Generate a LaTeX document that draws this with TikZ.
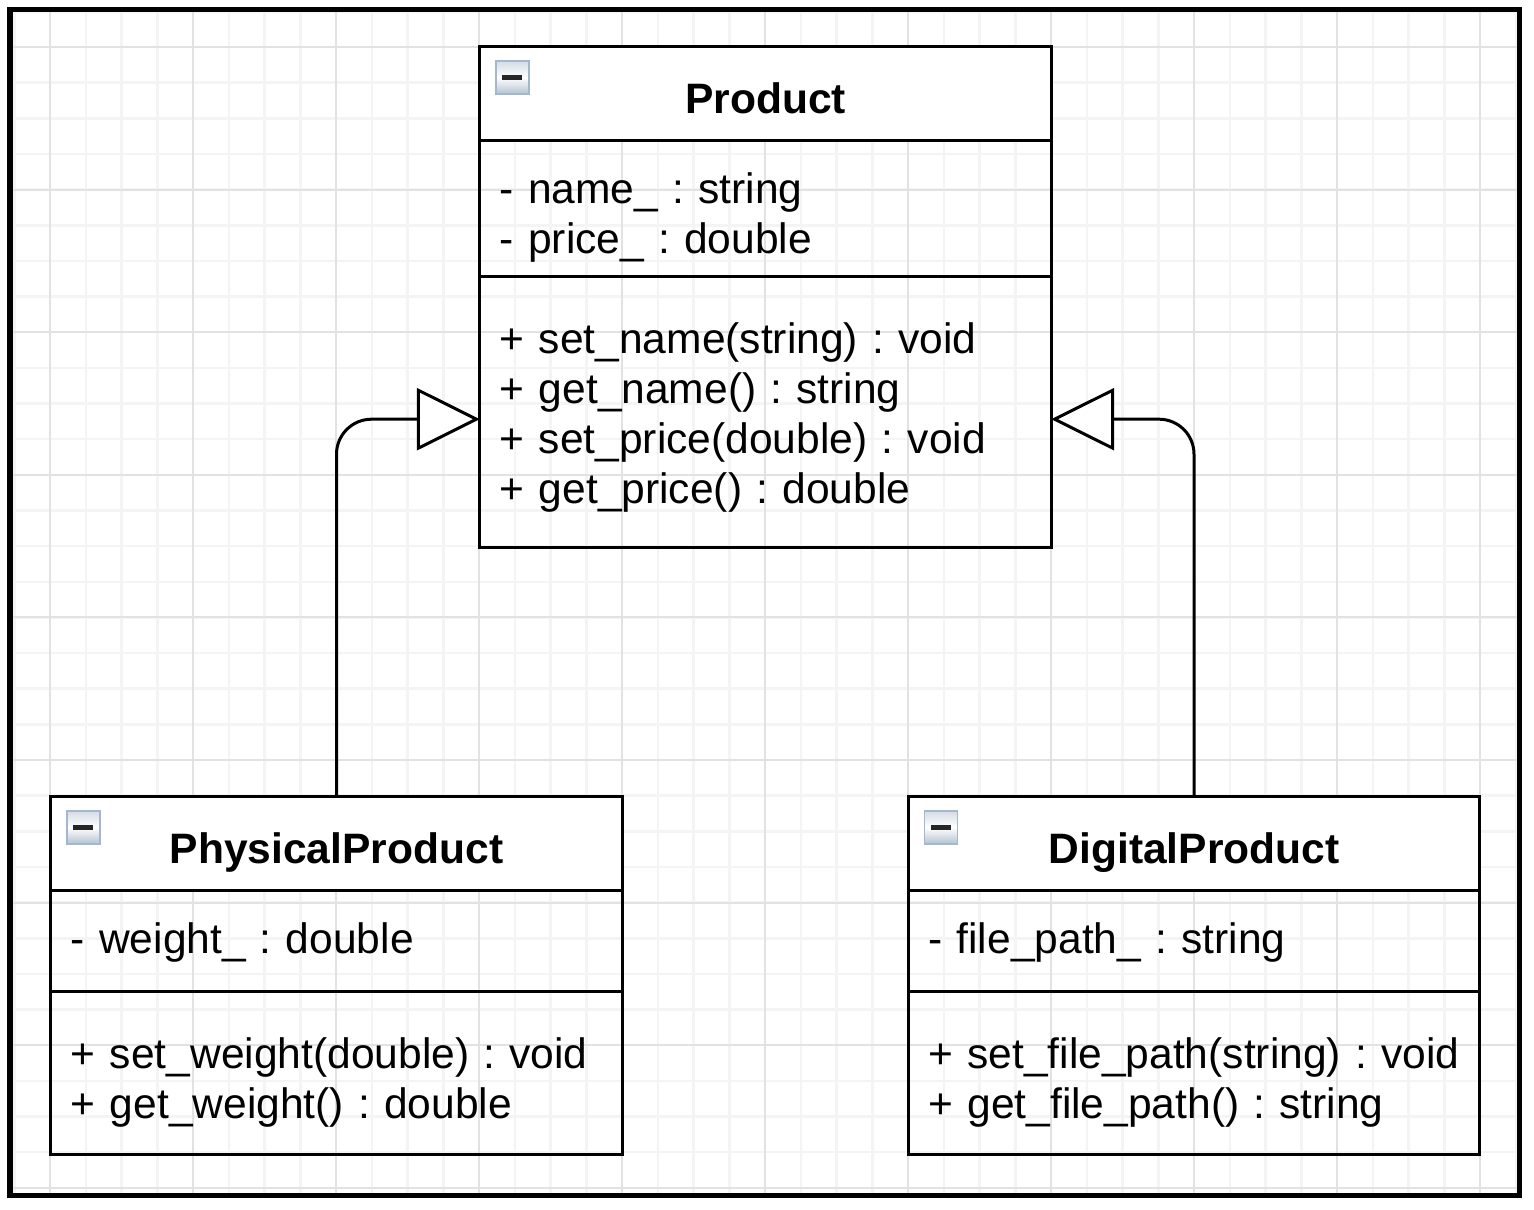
\documentclass[tikz,border=0pt]{standalone}
\usepackage{fontspec}
\setmainfont{Liberation Sans}
\usepackage{xcolor}
\usetikzlibrary{positioning}
\usetikzlibrary{arrows.meta}
\usetikzlibrary{math}
\definecolor{gridminor}{HTML}{F4F4F4}
\definecolor{gridmajor}{HTML}{E2E2E2}
\definecolor{iconedge}{HTML}{A3B8CE}
\definecolor{icontop}{HTML}{D3DCE6}
\definecolor{iconbot}{HTML}{B3C1D1}
\newcommand{\classfont}{\fontsize{12.1}{14.23}\selectfont\frenchspacing}
\tikzstyle{classhead} = [rectangle, draw=black, line width=0.03cm, fill=white, minimum width=5.71cm, minimum height=0.93cm, inner sep=0pt, outer sep=0pt, font=\classfont\bfseries, text height=0.406cm, text depth=0cm]
\tikzstyle{classpart} = [rectangle, draw=black, line width=0.03cm, text width=5.31cm, inner xsep=0.2cm, inner ysep=0pt, outer sep=0pt, align=left, font=\classfont]
\tikzstyle{collapse} = [rectangle, draw=iconedge, line width=0.015cm, top color=icontop, bottom color=iconbot, middle color=white, minimum size=0.33cm, inner sep=0pt, outer sep=0pt, path picture={\fill[black!85] ([xshift=-0.1cm, yshift=-0.025cm]path picture bounding box.center) rectangle ([xshift=0.1cm, yshift=0.025cm]path picture bounding box.center);}]
\tikzstyle{inherit} = [-{Triangle[length=0.63cm, width=0.62cm, fill=white]}, line width=0.03cm, rounded corners=0.35cm]

\begin{document}
\begin{tikzpicture}[x=0.01cm, y=-0.01cm]

  \useasboundingbox (0,0) rectangle (1534,1209);
  \tikzmath{\gx = 35.75; \gy = 35.65;}

  % grid
  \begin{scope}
    \clip (10,9.5) rectangle (1519.5,1195.5);
    \foreach \i in {-2,...,41} {
      \draw[gridminor, line width=0.025cm] ({50+\gx*\i},0) -- ({50+\gx*\i},1209);
    }
    \foreach \j in {-2,...,33} {
      \draw[gridminor, line width=0.025cm] (0,{47+\gy*\j}) -- (1534,{47+\gy*\j});
    }
    \foreach \i in {0,...,10} {
      \draw[gridmajor, line width=0.02cm] ({50+4*\gx*\i},0) -- ({50+4*\gx*\i},1209);
    }
    \foreach \j in {-1,...,8} {
      \draw[gridmajor, line width=0.02cm] (0,{47+4*\gy*\j}) -- (1534,{47+4*\gy*\j});
    }
  \end{scope}
  \draw[line width=0.05cm] (10,9.5) rectangle (1519.5,1195.5);

  % Product
  \node[classhead] (prodhead) at (765.5,93.5) {Product};
  \node[classpart, minimum height=1.36cm, text height=0.63cm, text depth=0.73cm, below=0pt of prodhead] (prodattr) {- name\_ : string\\- price\_ : double};
  \node[classpart, minimum height=2.71cm, text height=0.77cm, text depth=1.94cm, below=0pt of prodattr] (prodmeth) {+ set\_name(string) : void\\+ get\_name() : string\\+ set\_price(double) : void\\+ get\_price() : double};
  \node[collapse, below right=0.14cm and 0.16cm of prodhead.north west] (prodicon) {};

  % PhysicalProduct
  \node[classhead] (physhead) at (336.5,843.5) {PhysicalProduct};
  \node[classpart, minimum height=1.01cm, text height=0.63cm, text depth=0.38cm, below=0pt of physhead] (physattr) {- weight\_ : double};
  \node[classpart, minimum height=1.63cm, text height=0.77cm, text depth=0.86cm, below=0pt of physattr] (physmeth) {+ set\_weight(double) : void\\+ get\_weight() : double};
  \node[collapse, below right=0.14cm and 0.16cm of physhead.north west] (physicon) {};

  % DigitalProduct
  \node[classhead, right=2.86cm of physhead] (digihead) {DigitalProduct};
  \node[classpart, minimum height=1.01cm, text height=0.63cm, text depth=0.38cm, below=0pt of digihead] (digiattr) {- file\_path\_ : string};
  \node[classpart, minimum height=1.63cm, text height=0.77cm, text depth=0.86cm, below=0pt of digiattr] (digimeth) {+ set\_file\_path(string) : void\\+ get\_file\_path() : string};
  \node[collapse, below right=0.14cm and 0.16cm of digihead.north west] (digiicon) {};

  % inheritance
  \draw[inherit] (physhead.north) |- ([yshift=-0.075cm]prodmeth.west);
  \draw[inherit] (digihead.north) |- ([yshift=-0.075cm]prodmeth.east);

\end{tikzpicture}
\end{document}
